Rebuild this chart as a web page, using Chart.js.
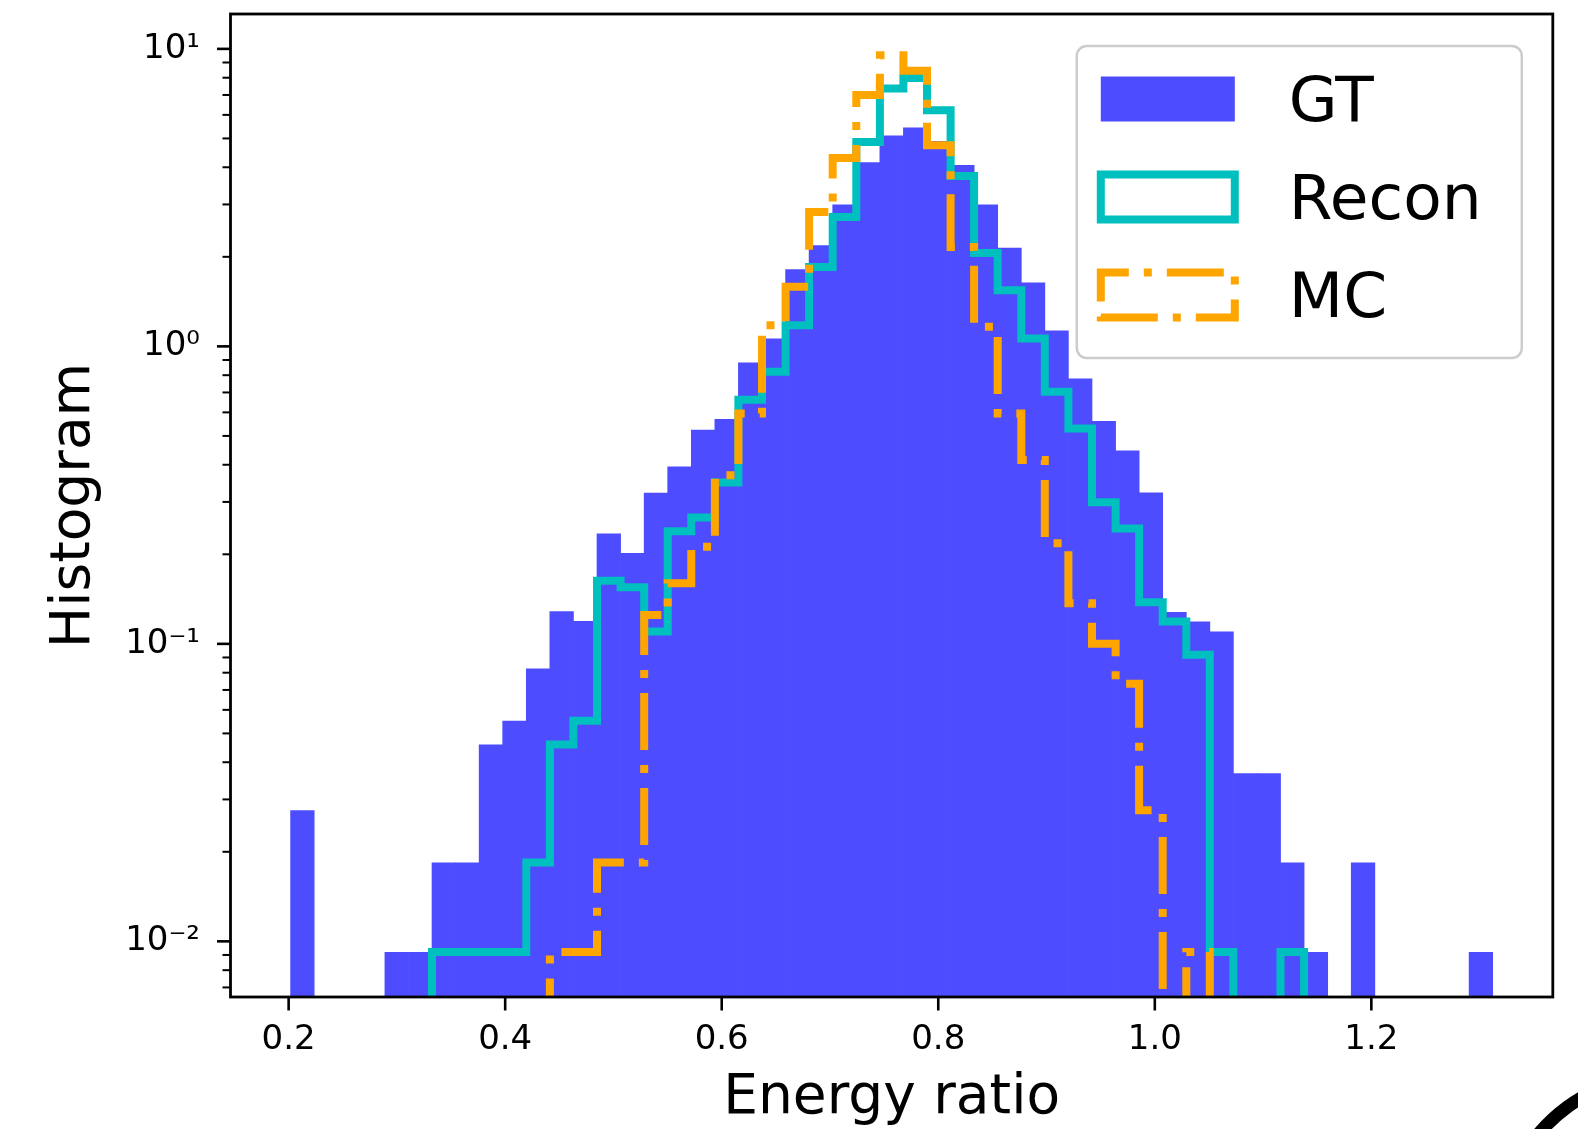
<!DOCTYPE html>
<html>
<head>
<meta charset="utf-8">
<title>Energy ratio histogram</title>
<script src="https://cdn.jsdelivr.net/npm/chart.js@4.4.1/dist/chart.umd.min.js"></script>
<style>
  html, body { margin: 0; padding: 0; background: #fff; }
  #box { position: relative; width: 1578px; height: 1129px; }
</style>
</head>
<body>
<div id="box"><canvas id="energyChart"></canvas></div>
<script>
// bin edges of the 51 histogram bins
const binEdges = [
  0.2018, 0.2236, 0.2453, 0.2671, 0.2889, 0.3107, 0.3324, 0.3542, 0.3760, 0.3977,
  0.4195, 0.4413, 0.4630, 0.4848, 0.5066, 0.5284, 0.5501, 0.5719, 0.5937, 0.6154,
  0.6372, 0.6590, 0.6807, 0.7025, 0.7243, 0.7461, 0.7678, 0.7896, 0.8114, 0.8331,
  0.8549, 0.8767, 0.8984, 0.9202, 0.9420, 0.9638, 0.9855, 1.0073, 1.0291, 1.0508,
  1.0726, 1.0944, 1.1161, 1.1379, 1.1597, 1.1815, 1.2032, 1.2250, 1.2468, 1.2685,
  1.2903, 1.3121
];

// density per bin (0 = empty bin)
const gtDensity = [
  0.0276, 0, 0, 0, 0.0092, 0.0092, 0.0184, 0.0184, 0.0459, 0.0551,
  0.0827, 0.1286, 0.1194, 0.235, 0.202, 0.322, 0.395, 0.524, 0.570, 0.883,
  1.063, 1.817, 2.188, 2.998, 4.159, 5.113, 5.440, 4.903, 4.073, 2.998,
  2.146, 1.639, 1.131, 0.780, 0.561, 0.447, 0.323, 0.128, 0.119, 0.110,
  0.0367, 0.0367, 0.0184, 0.0092, 0, 0.0184, 0, 0, 0, 0,
  0.0092
];
const reconDensity = [
  0, 0, 0, 0, 0, 0, 0.0092, 0.0092, 0.0092, 0.0092,
  0.0184, 0.0459, 0.0551, 0.163, 0.155, 0.110, 0.239, 0.266, 0.349, 0.661,
  0.821, 1.178, 1.850, 2.723, 4.866, 7.354, 7.990, 6.219, 3.741, 2.060,
  1.545, 1.063, 0.704, 0.530, 0.299, 0.244, 0.138, 0.119, 0.092, 0.0092,
  0, 0, 0.0092, 0, 0, 0, 0, 0, 0, 0,
  0
];
const mcDensity = [
  0, 0, 0, 0, 0, 0, 0, 0, 0, 0,
  0, 0.0092, 0.0092, 0.0184, 0.0184, 0.125, 0.160, 0.212, 0.369, 0.595,
  1.178, 1.585, 2.830, 4.300, 7.000, 9.520, 8.450, 4.740, 2.160, 1.163,
  0.595, 0.415, 0.218, 0.137, 0.100, 0.0735, 0.0276, 0, 0.0092, 0,
  0, 0, 0, 0, 0, 0, 0, 0, 0, 0,
  0
];

const seriesNames = ["GT", "Recon", "MC"];
const xTickValues = [0.2, 0.4, 0.6, 0.8, 1.0, 1.2];
const xTickLabels = ["0.2", "0.4", "0.6", "0.8", "1.0", "1.2"];
const yTickValues = [0.01, 0.1, 1, 10];
const yTickLabels = ["10\u207b\u00b2", "10\u207b\u00b9", "10\u2070", "10\u00b9"];

const FONT = "'DejaVu Sans', sans-serif";
const GT_COLOR = "#4d4dff";      // blue at alpha 0.7 over white
const RECON_COLOR = "#00bfbf";
const MC_COLOR = "#ffa500";
const MC_DASH = [57, 15, 8, 15];
const OFF_AXIS = 1e-4;           // empty bins: step line drops below the axis

const binCenters = gtDensity.map((_, i) => (binEdges[i] + binEdges[i + 1]) / 2);

// outline of a step histogram: up from the first edge, across each bin, down at the end
function stepPoints(values) {
  const n = values.length;
  const pts = [{ x: binEdges[0], y: OFF_AXIS }];
  values.forEach((v, i) => pts.push({ x: binEdges[i], y: v > 0 ? v : OFF_AXIS }));
  pts.push({ x: binEdges[n], y: values[n - 1] > 0 ? values[n - 1] : OFF_AXIS });
  pts.push({ x: binEdges[n], y: OFF_AXIS });
  return pts;
}

// spines and tick marks (matplotlib style, minor ticks on the log axis)
const axesFrame = {
  id: "axesFrame",
  afterDatasetsDraw(chart) {
    const { ctx, chartArea: a, scales: { x, y } } = chart;
    ctx.save();
    ctx.strokeStyle = "#000";
    ctx.lineCap = "butt";
    const tick = (x1, y1, x2, y2, w) => {
      ctx.lineWidth = w;
      ctx.beginPath();
      ctx.moveTo(x1, y1);
      ctx.lineTo(x2, y2);
      ctx.stroke();
    };
    for (let e = -3; e <= 1; e++) {
      for (let m = 2; m <= 9; m++) {
        const v = m * Math.pow(10, e);
        if (v < y.min || v > y.max) continue;
        const py = y.getPixelForValue(v);
        tick(a.left - 8, py, a.left, py, 2);
      }
    }
    yTickValues.forEach(v => {
      const py = y.getPixelForValue(v);
      tick(a.left - 13.5, py, a.left, py, 2.6);
    });
    xTickValues.forEach(v => {
      const px = x.getPixelForValue(v);
      tick(px, a.bottom, px, a.bottom + 13.5, 2.6);
    });
    ctx.lineWidth = 2.8;
    ctx.strokeRect(a.left, a.top, a.right - a.left, a.bottom - a.top);
    ctx.restore();
  }
};

function roundedRect(ctx, x, y, w, h, r) {
  ctx.beginPath();
  ctx.moveTo(x + r, y);
  ctx.arcTo(x + w, y, x + w, y + h, r);
  ctx.arcTo(x + w, y + h, x, y + h, r);
  ctx.arcTo(x, y + h, x, y, r);
  ctx.arcTo(x, y, x + w, y, r);
  ctx.closePath();
}

// legend in the upper right corner, with patch-style handles
const legendBox = {
  id: "legendBox",
  afterDraw(chart) {
    const { ctx, chartArea: a } = chart;
    const w = 445, h = 312;
    const left = a.right - 31 - w;
    const top = a.top + 32;
    ctx.save();
    roundedRect(ctx, left, top, w, h, 10);
    ctx.fillStyle = "rgba(255,255,255,0.8)";
    ctx.fill();
    ctx.lineWidth = 2.5;
    ctx.strokeStyle = "#cccccc";
    ctx.stroke();

    chart.data.datasets.forEach((ds, i) => {
      const cy = top + 53 + i * 98;
      const hx = left + 24, hy = cy - 22.5, hw = 134, hh = 45;
      if (ds.type === "line") {
        ctx.setLineDash(ds.borderDash || []);
        ctx.lineWidth = ds.borderWidth;
        ctx.strokeStyle = ds.borderColor;
        ctx.lineJoin = "miter";
        ctx.beginPath();
        ctx.moveTo(hx, hy + hh);
        ctx.lineTo(hx + hw, hy + hh);
        ctx.lineTo(hx + hw, hy);
        ctx.lineTo(hx, hy);
        ctx.closePath();
        ctx.stroke();
        ctx.setLineDash([]);
      } else {
        ctx.fillStyle = ds.backgroundColor;
        ctx.fillRect(hx, hy, hw, hh);
      }
      ctx.fillStyle = "#000";
      ctx.font = "63px " + FONT;
      ctx.textAlign = "left";
      ctx.textBaseline = "alphabetic";
      ctx.fillText(ds.label, left + 212, cy + 22);
    });
    ctx.restore();
  }
};

// dark curved edge cut off in the lower right corner of the picture
const cornerArc = {
  id: "cornerArc",
  afterDraw(chart) {
    const ctx = chart.ctx;
    ctx.save();
    ctx.beginPath();
    ctx.arc(1665, 1240, 165, Math.PI * 1.15, Math.PI * 1.45);
    ctx.lineWidth = 13;
    ctx.strokeStyle = "#000";
    ctx.stroke();
    ctx.restore();
  }
};

new Chart(document.getElementById("energyChart"), {
  type: "bar",
  data: {
    datasets: [
      {
        label: seriesNames[0],
        data: binCenters.map((c, i) => ({ x: c, y: gtDensity[i] > 0 ? gtDensity[i] : null })),
        backgroundColor: GT_COLOR,
        borderWidth: 0,
        barPercentage: 1.03,
        categoryPercentage: 1.0,
        order: 2
      },
      {
        label: seriesNames[1],
        type: "line",
        data: stepPoints(reconDensity),
        borderColor: RECON_COLOR,
        borderWidth: 8,
        stepped: true,
        pointRadius: 0,
        fill: false,
        clip: 0,
        borderJoinStyle: "miter",
        borderCapStyle: "butt",
        order: 1
      },
      {
        label: seriesNames[2],
        type: "line",
        data: stepPoints(mcDensity),
        borderColor: MC_COLOR,
        borderWidth: 8,
        borderDash: MC_DASH,
        stepped: true,
        pointRadius: 0,
        fill: false,
        clip: 0,
        borderJoinStyle: "miter",
        borderCapStyle: "butt",
        order: 0
      }
    ]
  },
  options: {
    responsive: true,
    maintainAspectRatio: false,
    devicePixelRatio: 1,
    animation: false,
    events: [],
    layout: { padding: { left: 0, top: 14, right: 25.2, bottom: 0 } },
    plugins: {
      legend: { display: false },
      tooltip: { enabled: false }
    },
    scales: {
      x: {
        type: "linear",
        offset: false,
        min: 0.1463,
        max: 1.3676,
        grid: { display: false, drawTicks: false, offset: false },
        border: { display: false },
        afterBuildTicks: s => { s.ticks = xTickValues.map(v => ({ value: v })); },
        afterFit: s => { s.height = 132; s.paddingLeft = 0; s.paddingRight = 0; },
        ticks: {
          callback: (v, i) => xTickLabels[i],
          color: "#000",
          font: { family: FONT, size: 34 },
          padding: 23,
          maxRotation: 0,
          autoSkip: false
        },
        title: {
          display: true,
          text: "Energy ratio",
          color: "#000",
          font: { family: FONT, size: 55 },
          padding: { top: 0, bottom: -3 }
        }
      },
      y: {
        type: "logarithmic",
        min: 0.0065,
        max: 13.1,
        grid: { display: false, drawTicks: false },
        border: { display: false },
        afterBuildTicks: s => { s.ticks = yTickValues.map(v => ({ value: v })); },
        afterFit: s => { s.width = 230.5; s.paddingTop = 0; s.paddingBottom = 0; },
        ticks: {
          callback: (v, i) => yTickLabels[i],
          color: "#000",
          font: { family: FONT, size: 34 },
          padding: 30.5,
          autoSkip: false
        },
        title: {
          display: true,
          text: "Histogram",
          color: "#000",
          font: { family: FONT, size: 55 },
          padding: { top: 42, bottom: 0 }
        }
      }
    }
  },
  plugins: [axesFrame, legendBox, cornerArc]
});
</script>
</body>
</html>
